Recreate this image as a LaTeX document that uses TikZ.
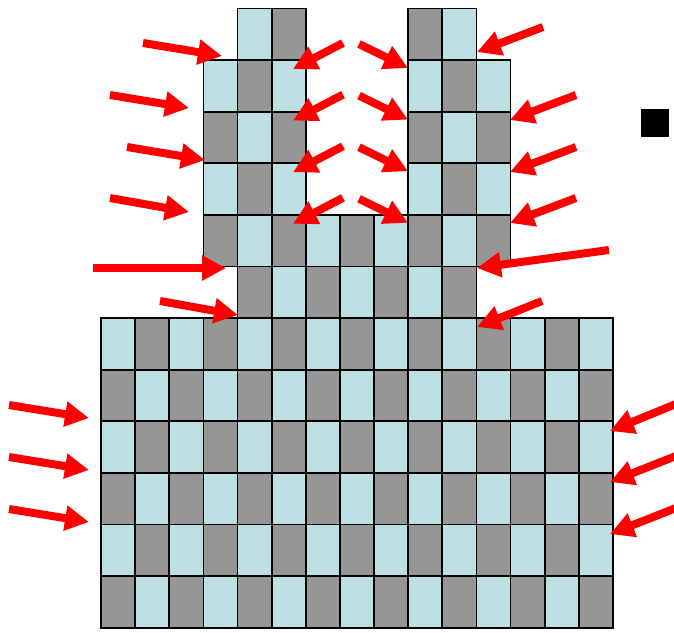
\documentclass[tikz,border=0pt]{standalone}
\usetikzlibrary{arrows.meta}
\definecolor{cellA}{RGB}{188,224,228}
\definecolor{cellB}{RGB}{150,150,150}
\tikzset{
  cellbox/.style={draw=black, line width=1.7pt},
  redarrow/.style={draw=red, line width=8pt, -{Triangle[length=24pt,width=24pt]}}
}
\newcommand\gcell[2]{%
  \pgfmathtruncatemacro\cpar{mod(#1+#2,2)}%
  \ifnum\cpar=0 \def\cc{cellA}\else\def\cc{cellB}\fi
  \draw[cellbox,fill=\cc] ({101+#2*34.13},{8.5+#1*51.6}) rectangle ++(34.13,51.6);%
}
\begin{document}
\begin{tikzpicture}[x=1pt,y=-1pt]
\useasboundingbox (0,0) rectangle (674,632);
% cells
\foreach \c in {4,5,9,10} {\gcell{0}{\c}}
\foreach \r in {1,2,3} {\foreach \c in {3,4,5,9,10,11} {\gcell{\r}{\c}}}
\foreach \c in {3,...,11} {\gcell{4}{\c}}
\foreach \c in {4,...,10} {\gcell{5}{\c}}
\foreach \r in {6,...,11} {\foreach \c in {0,...,14} {\gcell{\r}{\c}}}
% black square
\fill[black] (641,109) rectangle (669,137);
% left arrows
\coordinate (a1s) at (143,43); \coordinate (a1e) at (222,56);
\coordinate (a2s) at (110,95); \coordinate (a2e) at (189,108);
\coordinate (a3s) at (127,147); \coordinate (a3e) at (205,160);
\coordinate (a4s) at (110,198); \coordinate (a4e) at (189,212);
\coordinate (a5s) at (93,268); \coordinate (a5e) at (226,268);
\coordinate (a6s) at (160,301); \coordinate (a6e) at (238,315);
\coordinate (a7s) at (9,405); \coordinate (a7e) at (89,418);
\coordinate (a8s) at (9,457); \coordinate (a8e) at (89,470);
\coordinate (a9s) at (9,509); \coordinate (a9e) at (89,522);
\foreach \i in {1,...,9} {\draw[redarrow] (a\i s) -- (a\i e);}
% inner arrows
\foreach \y in {0,1,2,3} {
  \draw[redarrow] (343,{43+\y*51.6}) -- (293,{69+\y*51.6});
  \draw[redarrow] (359,{44+\y*51.6}) -- (408,{68+\y*51.6});
}
% right arrows
\coordinate (d1s) at (543,27); \coordinate (d1e) at (477,52);
\coordinate (d2s) at (576,95); \coordinate (d2e) at (510,120);
\coordinate (d3s) at (576,147); \coordinate (d3e) at (510,172);
\coordinate (d4s) at (576,198); \coordinate (d4e) at (510,223);
\coordinate (d5s) at (609,250); \coordinate (d5e) at (477,268);
\coordinate (d6s) at (542,301); \coordinate (d6e) at (477,327);
\coordinate (d7s) at (676,404); \coordinate (d7e) at (610,431);
\coordinate (d8s) at (676,456); \coordinate (d8e) at (610,482);
\coordinate (d9s) at (676,508); \coordinate (d9e) at (610,534);
\foreach \i in {1,...,9} {\draw[redarrow] (d\i s) -- (d\i e);}
\end{tikzpicture}
\end{document}
